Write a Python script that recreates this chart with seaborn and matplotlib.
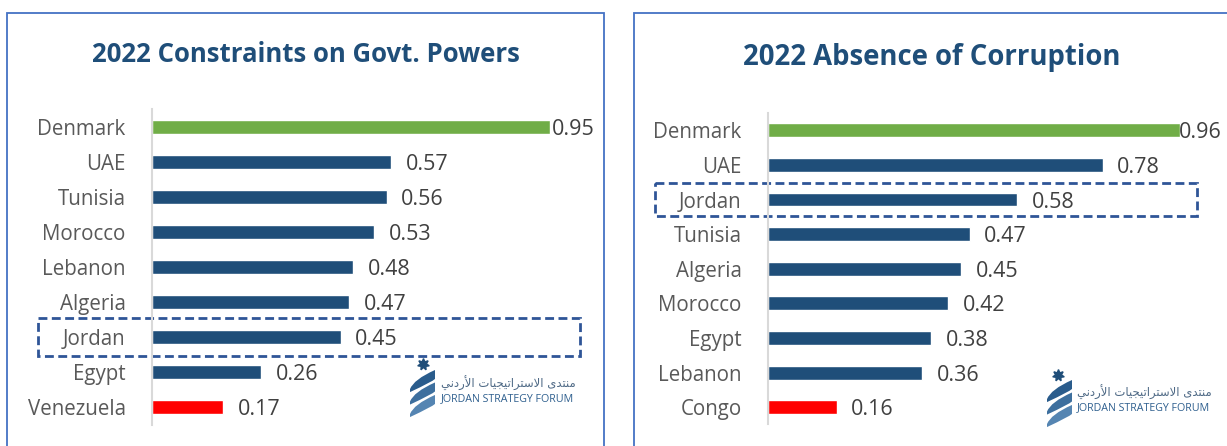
import matplotlib
matplotlib.use("Agg")
import matplotlib.pyplot as plt
import seaborn as sns
import pandas as pd
from matplotlib.patches import Rectangle, PathPatch
from matplotlib.path import Path
from matplotlib.lines import Line2D

# ---------------- data ----------------
left_title = "2022 Constraints on Govt. Powers"
left_countries = ["Denmark", "UAE", "Tunisia", "Morocco", "Lebanon", "Algeria", "Jordan", "Egypt", "Venezuela"]
left_values = [0.95, 0.57, 0.56, 0.53, 0.48, 0.47, 0.45, 0.26, 0.17]

right_title = "2022 Absence of Corruption"
right_countries = ["Denmark", "UAE", "Jordan", "Tunisia", "Algeria", "Morocco", "Egypt", "Lebanon", "Congo"]
right_values = [0.96, 0.78, 0.58, 0.47, 0.45, 0.42, 0.38, 0.36, 0.16]

highlight = "Jordan"
logo_en = "JORDAN STRATEGY FORUM"
# Arabic "منتدى الاستراتيجيات الأردني" in presentation forms (logical order)
logo_ar_words = ["\uFEE3\uFEE8\uFE98\uFEAA\uFEEF",
                 "\uFE8D\uFEFB\uFEB3\uFE98\uFEAE\uFE8D\uFE97\uFEF4\uFEA0\uFEF4\uFE8E\uFE95",
                 "\uFE8D\uFEF7\uFEAD\uFEA9\uFEE7\uFEF2"]

# ---------------- style ----------------
GREEN = "#70AD47"
BLUE = "#1F4E79"
RED = "#FF0000"
TITLE_C = "#1F4E79"
LABEL_C = "#595959"
VALUE_C = "#404040"
BORDER_C = "#4472C4"
BOX_C = "#2F5597"

sns.set_theme(style="white")
plt.rcParams["font.family"] = ["Open Sans", "DejaVu Sans"]

W, H = 1227, 446
fig = plt.figure(figsize=(W / 100, H / 100), dpi=100)
fig.patch.set_facecolor("white")


def fx(x):
    return x / W


def fy(y):
    return 1 - y / H


def bar_colors(vals):
    cols = []
    for v in vals:
        if v == max(vals):
            cols.append(GREEN)
        elif v == min(vals):
            cols.append(RED)
        else:
            cols.append(BLUE)
    return cols


def make_panel(rect_px, countries, values, title, title_xy, title_size, box_half, box_x, label_lim):
    x0, y0, x1, y1 = rect_px
    ax = fig.add_axes([fx(x0), fy(y1), fx(x1) - fx(x0), fy(y0) - fy(y1)])
    df = pd.DataFrame({"country": countries, "value": values})
    sns.barplot(data=df, x="value", y="country", hue="country", palette=bar_colors(values),
                legend=False, orient="h", width=0.4, ax=ax, saturation=1)
    ax.set_xlim(0, 1)
    ax.set_ylim(len(countries) - 0.5, -0.5)
    ax.set_xlabel("")
    ax.set_ylabel("")
    ax.set_xticks([])
    for s in ["top", "right", "bottom"]:
        ax.spines[s].set_visible(False)
    ax.spines["left"].set_color("#D9D9D9")
    ax.spines["left"].set_linewidth(1.5)
    ax.tick_params(axis="y", length=0, pad=19, labelsize=14.8, labelcolor=LABEL_C)
    for t in ax.get_yticklabels():
        t.set_verticalalignment("center_baseline")
    ax.patch.set_alpha(0)
    vmax = max(values)
    for i, v in enumerate(values):
        if v == vmax:
            ax.text(label_lim, i, f"{v:.2f}", ha="right", va="center_baseline", fontsize=15.5,
                    color=VALUE_C, clip_on=False)
        else:
            ax.annotate(f"{v:.2f}", (v, i), xytext=(10.5, 0), textcoords="offset points",
                        ha="left", va="center_baseline", fontsize=15.5, color=VALUE_C)
    # highlight box
    j = countries.index(highlight)
    bx0, bx1 = box_x
    r = Rectangle((bx0, j - box_half), bx1 - bx0, 2 * box_half, fill=False,
                  edgecolor=BOX_C, linewidth=2, linestyle=(0, (3.2, 1.6)), clip_on=False,
                  transform=ax.transData)
    ax.add_patch(r)
    fig.text(fx(title_xy[0]), fy(title_xy[1]), title, ha="center", va="center",
             fontsize=title_size, fontweight="bold", color=TITLE_C)
    return ax


# panel borders
fig.add_artist(Rectangle((fx(7), fy(460)), fx(604) - fx(7), fy(13) - fy(460), fill=False,
                         edgecolor=BORDER_C, linewidth=1.3, transform=fig.transFigure))
fig.add_artist(Rectangle((fx(634), fy(460)), fx(1240) - fx(634), fy(13) - fy(460), fill=False,
                         edgecolor=BORDER_C, linewidth=1.3, transform=fig.transFigure))

make_panel((152, 109, 571, 424.5), left_countries, left_values, left_title, (306, 55), 18.5,
           0.54, (-0.272, 1.021), 1.057)
make_panel((768, 113, 1197, 424.5), right_countries, right_values, right_title, (932, 58), 19.8,
           0.49, (-0.263, 1.0), 1.058)


def draw_logo(sx, sy, sw, sh, star_xy, tx, ty_ar, ty_en):
    # star
    fig.add_artist(Line2D([fx(star_xy[0])], [fy(star_xy[1])], marker=(7, 1, 0), markersize=8.5,
                          color=BLUE, transform=fig.transFigure, linestyle="none"))
    # ribbon bands
    shades = ["#2A5C8C", "#3D6F9E", "#5585B2"]
    for k in range(3):
        t0 = k / 3.0
        t1 = t0 + 0.26
        pts = [(1.0, t0), (0.15, t0 + 0.25), (0.0, t1 + 0.25), (0.0, t1 + 0.33),
               (0.9, t1 + 0.05), (1.0, t1 - 0.02), (1.0, t0)]
        pts = [(fx(sx + px * sw), fy(sy + py * sh * 0.72)) for px, py in pts]
        codes = [Path.MOVETO, Path.CURVE3, Path.CURVE3, Path.LINETO, Path.CURVE3, Path.CURVE3,
                 Path.CLOSEPOLY]
        fig.add_artist(PathPatch(Path(pts, codes), facecolor=shades[k], edgecolor="none",
                                 transform=fig.transFigure))
    ar = " ".join(logo_ar_words)[::-1]
    fig.text(fx(tx), fy(ty_ar), ar, ha="left", va="center", fontsize=8.4, color="#4F6A86",
             family=["DejaVu Sans"])
    fig.text(fx(tx), fy(ty_en), logo_en, ha="left", va="center", fontsize=7.7, color="#2E5F8E")


draw_logo(410, 370, 25, 52, (423, 364), 441, 383, 399)
draw_logo(1047, 380, 25, 52, (1058, 375), 1077, 392, 408)

fig.savefig("out.png", dpi=100, facecolor="white")
